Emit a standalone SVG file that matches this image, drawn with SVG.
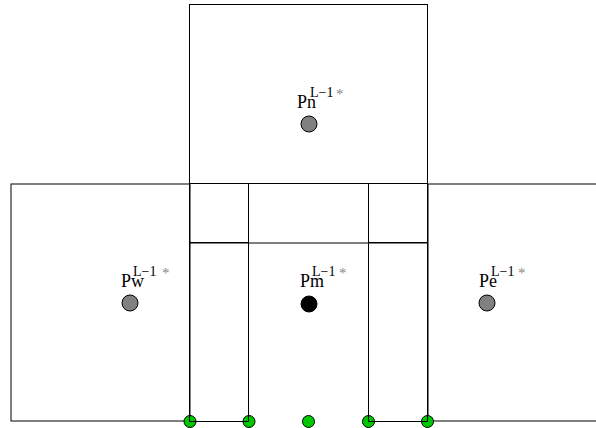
<svg xmlns="http://www.w3.org/2000/svg" width="596" height="428" viewBox="0 0 596 428">
<style>
.cell{fill:none;stroke:#000;stroke-width:1}
.inner{fill:none;stroke:#000;stroke-width:1}
.pt{stroke:#000;stroke-width:1}
.lbl{font-family:"Liberation Serif","Times New Roman",serif;font-size:18px;fill:#000}
.sup{font-size:14px}
.ast{font-size:15px;fill:#888}
.face{fill:#00c800;stroke:#000;stroke-width:1}
</style>
<rect width="596" height="428" fill="#fff"/>
<g id="cell-w"><rect class="cell" x="11" y="184" width="179" height="237"/></g>
<g id="cell-e"><rect class="cell" x="428" y="184" width="200" height="237"/></g>
<g id="cell-n"><rect class="cell" x="189.5" y="4.5" width="238" height="238.5"/></g>
<g id="faces">
<circle class="face" cx="190" cy="421.5" r="6"/>
<circle class="face" cx="249" cy="421.5" r="6"/>
<circle class="face" cx="308.5" cy="421.5" r="6"/>
<circle class="face" cx="368.5" cy="421.5" r="6"/>
<circle class="face" cx="427.5" cy="421.5" r="6"/>
</g>
<g id="connectors">
<rect class="inner" x="189.5" y="183.5" width="59" height="59"/>
<rect class="inner" x="368.5" y="183.5" width="59" height="59"/>
<line class="inner" x1="189.5" y1="183.5" x2="427.5" y2="183.5"/>
<line class="inner" x1="189.5" y1="242.5" x2="189.5" y2="421.5"/>
<line class="inner" x1="248.5" y1="242.5" x2="248.5" y2="421.5"/>
<line class="inner" x1="368.5" y1="242.5" x2="368.5" y2="421.5"/>
<line class="inner" x1="427.5" y1="242.5" x2="427.5" y2="421.5"/>
<line class="inner" x1="189.5" y1="421.5" x2="248.5" y2="421.5"/>
<line class="inner" x1="368.5" y1="421.5" x2="427.5" y2="421.5"/>
</g>
<g id="node-pn">
<circle class="pt" cx="309" cy="124" r="8" fill="#808080"/>
<text class="lbl" x="297" y="108">Pn<tspan class="sup" x="310" y="97">L−1</tspan><tspan class="ast" x="336" y="99">*</tspan></text>
</g>
<g id="node-pw">
<circle class="pt" cx="130" cy="303" r="8" fill="#808080"/>
<text class="lbl" x="121" y="287">Pw<tspan class="sup" x="133" y="276">L−1</tspan><tspan class="ast" x="162" y="278">*</tspan></text>
</g>
<g id="node-pm">
<circle class="pt" cx="309" cy="304" r="8" fill="#000"/>
<text class="lbl" x="300" y="287">Pm<tspan class="sup" x="312" y="276">L−1</tspan><tspan class="ast" x="339" y="278">*</tspan></text>
</g>
<g id="node-pe">
<circle class="pt" cx="487" cy="303" r="8" fill="#808080"/>
<text class="lbl" x="479" y="287">Pe<tspan class="sup" x="491" y="276">L−1</tspan><tspan class="ast" x="518" y="278">*</tspan></text>
</g>
</svg>
